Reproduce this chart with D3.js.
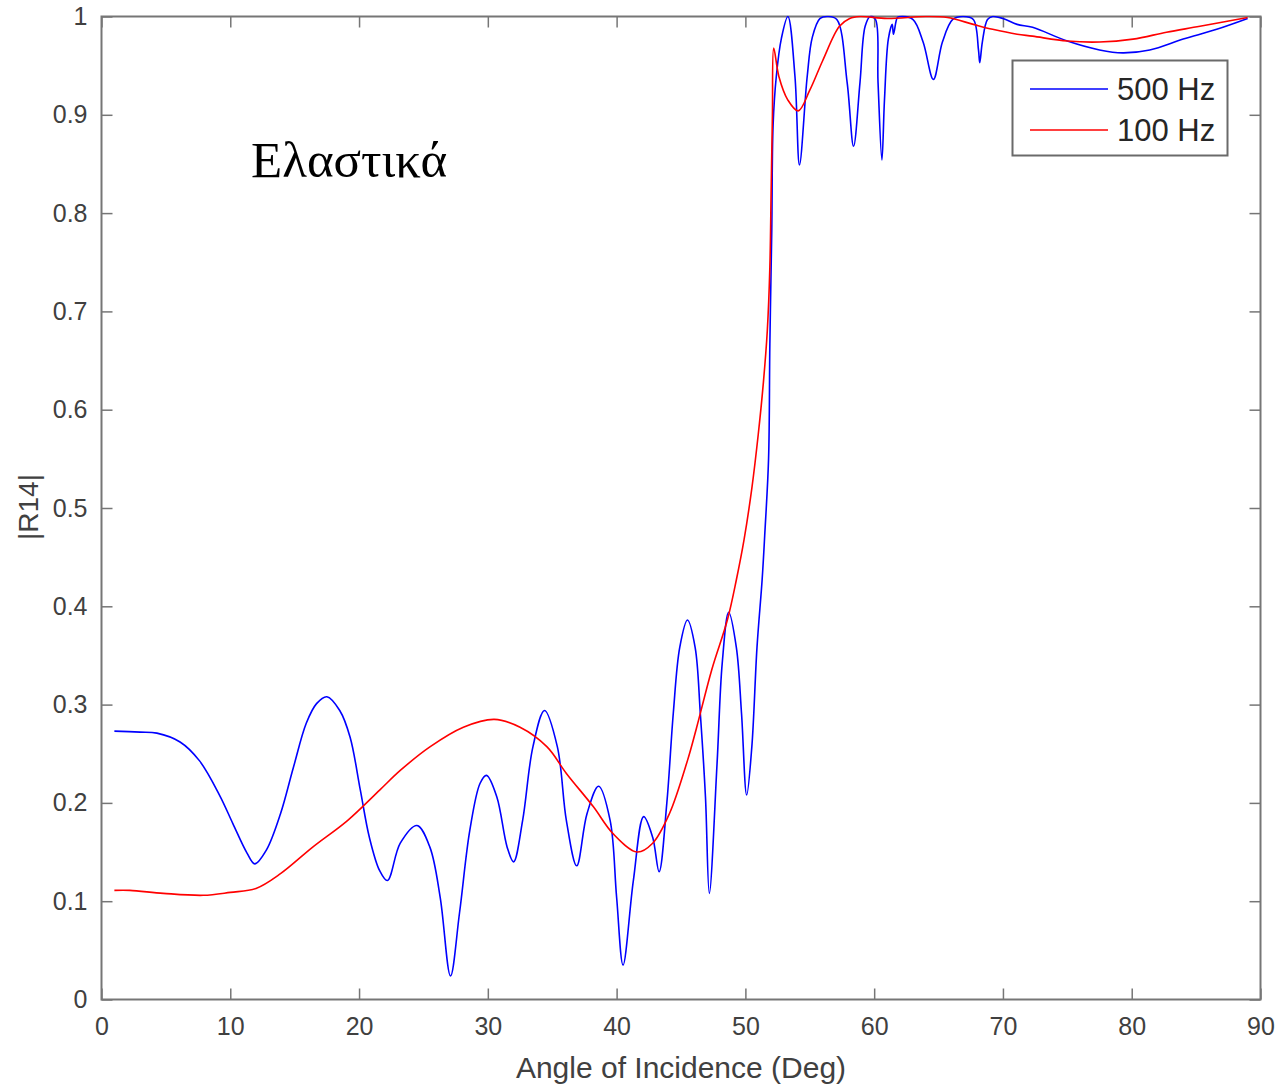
<!DOCTYPE html>
<html><head><meta charset="utf-8">
<script src="https://cdn.jsdelivr.net/npm/d3@7"></script>
<style>body{margin:0;background:#fff}svg{display:block}</style>
</head><body>
<svg id="c" width="1283" height="1088"></svg>
<script>
// 500 Hz series: angle (deg), |R14|
const blueX = [1.0,3.0,4.3,6.1,7.6,9.2,10.2,11.3,11.9,12.8,13.9,14.9,15.9,16.7,17.5,18.5,19.3,20.1,20.8,21.6,22.2,23.2,24.5,25.5,26.3,27.1,27.8,28.6,29.4,29.9,30.7,31.5,32.0,32.7,33.5,34.4,35.4,36.1,36.9,37.7,38.6,39.5,40.0,40.5,41.3,42.1,42.8,43.3,43.9,44.4,44.9,45.5,46.1,46.5,46.9,47.2,47.8,48.2,48.7,49.3,49.7,50.1,50.5,50.9,51.3,51.5,51.8,51.9,52.05,52.15,52.4,52.8,53.3,53.85,54.2,54.8,55.2,55.8,56.4,57.1,57.9,58.4,58.9,59.3,59.7,60.1,60.3,60.6,60.8,61.1,61.4,61.5,61.8,62.0,63.0,63.8,64.6,65.3,66.1,66.9,67.7,68.1,68.2,68.4,68.8,69.2,70.0,71.1,72.3,75.0,77.5,79.3,81.4,84.0,86.6,89.0];
const blueY = [0.273,0.272,0.271,0.262,0.243,0.207,0.179,0.149,0.138,0.152,0.189,0.236,0.281,0.301,0.308,0.294,0.267,0.213,0.165,0.131,0.121,0.159,0.177,0.155,0.104,0.024,0.088,0.172,0.220,0.228,0.206,0.155,0.140,0.182,0.257,0.294,0.257,0.182,0.136,0.189,0.217,0.182,0.104,0.035,0.121,0.186,0.165,0.130,0.200,0.291,0.358,0.386,0.358,0.291,0.206,0.108,0.240,0.342,0.394,0.358,0.291,0.208,0.257,0.358,0.427,0.472,0.550,0.667,0.783,0.889,0.939,0.978,1.000,0.939,0.849,0.939,0.979,0.998,1.000,0.997,0.933,0.868,0.933,0.990,1.000,0.997,0.933,0.854,0.915,0.977,0.992,0.982,0.999,1.000,0.997,0.974,0.936,0.974,0.997,1.000,0.997,0.966,0.953,0.974,0.997,1.000,0.998,0.992,0.989,0.975,0.966,0.963,0.966,0.977,0.987,0.998];
// 100 Hz series
const redX = [1.0,2.2,4.8,7.9,10.0,12.0,13.9,16.4,19.1,21.6,23.2,25.5,28.1,30.5,32.5,34.6,36.1,38.2,39.7,41.6,42.8,44.1,45.5,46.2,47.4,48.6,49.3,49.9,50.5,51.0,51.4,51.7,51.9,52.0,52.1,52.2,52.6,53.3,54.1,55.0,56.0,57.3,58.1,58.9,61.0,64.0,65.7,67.7,69.2,71.1,72.3,75.0,77.5,80.1,82.7,85.3,89.0];
const redY = [0.111,0.111,0.108,0.106,0.109,0.113,0.128,0.155,0.182,0.213,0.233,0.257,0.277,0.285,0.277,0.257,0.230,0.196,0.169,0.150,0.159,0.189,0.243,0.276,0.336,0.386,0.427,0.468,0.520,0.575,0.628,0.680,0.745,0.823,0.900,0.968,0.939,0.915,0.904,0.925,0.955,0.990,0.998,1.000,0.998,1.000,0.999,0.992,0.987,0.982,0.980,0.975,0.974,0.977,0.984,0.990,0.999];
const xTicks = [0,10,20,30,40,50,60,70,80,90];
const yTicks = [0,0.1,0.2,0.3,0.4,0.5,0.6,0.7,0.8,0.9,1];
const seriesNames = ["500 Hz","100 Hz"];
const seriesColors = ["#0000ff","#ff0000"];
const xTitle = "Angle of Incidence (Deg)";
const yTitle = "|R14|";
const annotation = "Ελαστικά";

const svg = d3.select("#c");
const L = 101.5, R = 1260.5, T = 16.5, B = 999.5;
const x = d3.scaleLinear().domain([0,90]).range([L,R]);
const y = d3.scaleLinear().domain([0,1]).range([B,T]);
const axisCol = "#767676", textCol = "#404040";
const font = "'Liberation Sans', Arial, sans-serif";

svg.append("defs").append("clipPath").attr("id","pa").append("rect")
  .attr("x",L).attr("y",T-1).attr("width",R-L).attr("height",B-T+1);

const tl = 11;
function styleAxis(g){
  g.select(".domain").remove();
  g.selectAll(".tick line").attr("stroke",axisCol).attr("stroke-width",1.5);
  g.selectAll(".tick text").attr("fill",textCol).style("font-family",font).style("font-size","25px");
}
svg.append("g").attr("transform",`translate(0,${B})`)
  .call(d3.axisBottom(x).tickValues(xTicks).tickSize(-tl).tickPadding(18).tickFormat(d3.format("d"))).call(styleAxis);
svg.append("g").attr("transform",`translate(0,${T})`)
  .call(d3.axisTop(x).tickValues(xTicks).tickSize(-tl).tickFormat("")).call(styleAxis);
svg.append("g").attr("transform",`translate(${L},0)`)
  .call(d3.axisLeft(y).tickValues(yTicks).tickSize(-tl).tickPadding(14).tickFormat(d=>d===0?"0":d===1?"1":d3.format(".1f")(d))).call(styleAxis);
svg.append("g").attr("transform",`translate(${R},0)`)
  .call(d3.axisRight(y).tickValues(yTicks).tickSize(-tl).tickFormat("")).call(styleAxis);

svg.append("rect").attr("x",L).attr("y",T).attr("width",R-L).attr("height",B-T)
  .attr("fill","none").attr("stroke",axisCol).attr("stroke-width",2);

const line = d3.line().x(d=>x(d[0])).y(d=>y(d[1])).curve(d3.curveCatmullRom.alpha(0.5));
const blue = blueX.map((v,i)=>[v,blueY[i]]);
const red = redX.map((v,i)=>[v,redY[i]]);
const pg = svg.append("g").attr("clip-path","url(#pa)");
pg.append("path").datum(blue).attr("d",line).attr("fill","none").attr("stroke",seriesColors[0]).attr("stroke-width",1.6);
pg.append("path").datum(red).attr("d",line).attr("fill","none").attr("stroke",seriesColors[1]).attr("stroke-width",1.6);

svg.append("text").attr("x",(L+R)/2).attr("y",1078).attr("text-anchor","middle")
  .attr("fill",textCol).style("font-family",font).style("font-size","30px").text(xTitle);
svg.append("text").attr("transform","translate(38,507) rotate(-90)").attr("text-anchor","middle")
  .attr("fill",textCol).style("font-family",font).style("font-size","28px").text(yTitle);

svg.append("text").attr("x",251).attr("y",177).attr("fill","#000")
  .style("font-family","'Liberation Serif','DejaVu Serif',serif").style("font-size","51px").text(annotation);

// legend
const lg = svg.append("g");
lg.append("rect").attr("x",1012.5).attr("y",60.5).attr("width",215).attr("height",95)
  .attr("fill","#fff").attr("stroke","#6a6a6a").attr("stroke-width",2);
seriesNames.forEach((n,i)=>{
  const yy = 89 + i*41;
  lg.append("line").attr("x1",1030).attr("x2",1108).attr("y1",yy).attr("y2",yy)
    .attr("stroke",seriesColors[i]).attr("stroke-width",1.6);
  lg.append("text").attr("x",1117).attr("y",yy+11).attr("fill","#262626")
    .style("font-family",font).style("font-size","31px").text(n);
});
</script>
</body></html>
